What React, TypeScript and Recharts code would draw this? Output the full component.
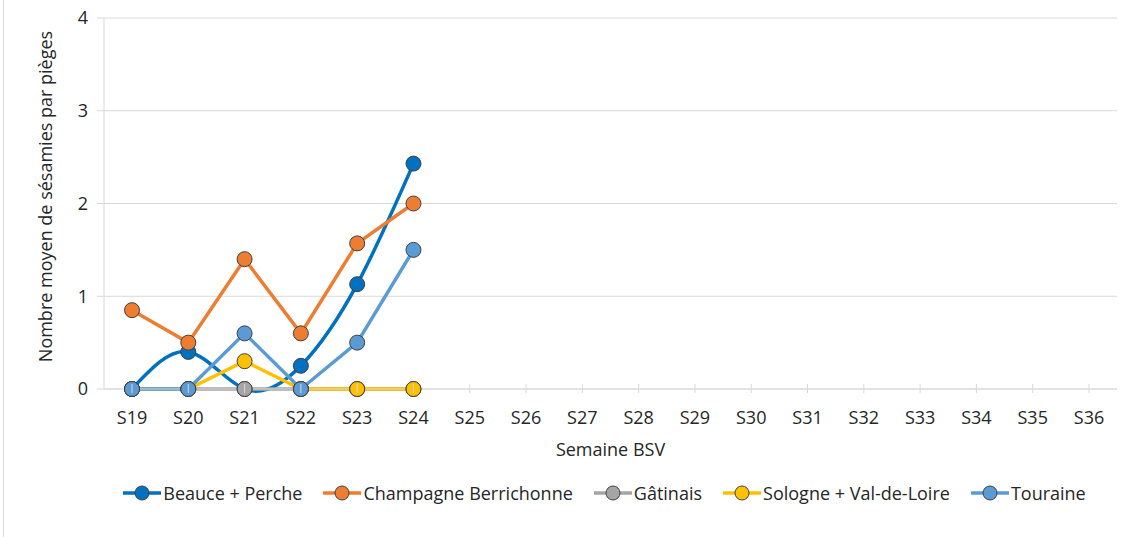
import React from "react";
import { LineChart, Line, XAxis, YAxis, CartesianGrid, Legend } from "recharts";

// ── Data ───────────────────────────────────────────────────────────────────

const weeks = [
  "S19", "S20", "S21", "S22", "S23", "S24", "S25", "S26", "S27",
  "S28", "S29", "S30", "S31", "S32", "S33", "S34", "S35", "S36",
];

const beauce = [0, 0.4, 0, 0.25, 1.13, 2.43];
const champagne = [0.85, 0.5, 1.4, 0.6, 1.57, 2.0];
const gatinais = [0, 0, 0, 0, 0, 0];
const sologne = [0, 0, 0.3, 0, 0, 0];
const touraine = [0, 0, 0.6, 0, 0.5, 1.5];

const yTicks = [0, 1, 2, 3, 4];

const SERIES = [
  { key: "beauce", name: "Beauce + Perche", color: "#0070C0", values: beauce, curve: "natural" },
  { key: "champagne", name: "Champagne Berrichonne", color: "#ED7D31", values: champagne, curve: "linear" },
  { key: "gatinais", name: "Gâtinais", color: "#A5A5A5", values: gatinais, curve: "linear" },
  { key: "sologne", name: "Sologne + Val-de-Loire", color: "#FFC000", values: sologne, curve: "linear" },
  { key: "touraine", name: "Touraine", color: "#5B9BD5", values: touraine, curve: "linear" },
] as const;

const data = weeks.map((w, i) => {
  const row: Record<string, string | number | null> = { week: w };
  SERIES.forEach((s) => {
    row[s.key] = i < s.values.length ? s.values[i] : null;
  });
  return row;
});

// ── Styles ─────────────────────────────────────────────────────────────────

const FONT = '"Open Sans", sans-serif';
const TEXT = "#262626";
const GRID = "#d9d9d9";

function XTick({ x, y, payload }: any) {
  return (
    <g>
      <line x1={x} x2={x} y1={y - 5} y2={y + 4} stroke={GRID} />
      <text
        x={x}
        y={y + 28}
        textAnchor="middle"
        dominantBaseline="central"
        fontSize={18}
        fill={TEXT}
        fontFamily={FONT}
      >
        {payload.value}
      </text>
    </g>
  );
}

function LegendContent() {
  return (
    <div
      style={{
        display: "flex",
        justifyContent: "center",
        gap: 21,
        height: 60,
        paddingTop: 4,
        paddingLeft: 92,
        boxSizing: "border-box",
        fontFamily: FONT,
        fontSize: 18,
        color: TEXT,
      }}
    >
      {SERIES.map((s) => (
        <div key={s.key} style={{ display: "flex", alignItems: "center", height: 24 }}>
          <svg width={38} height={20}>
            <line x1={0} x2={38} y1={10} y2={10} stroke={s.color} strokeWidth={3.5} />
            <circle cx={19} cy={10} r={7} fill={s.color} stroke="#404040" strokeWidth={1} />
          </svg>
          <span style={{ marginLeft: 2, whiteSpace: "nowrap" }}>{s.name}</span>
        </div>
      ))}
    </div>
  );
}

export default function App() {
  return (
    <div
      style={{
        position: "absolute",
        left: 0,
        top: 0,
        width: 1132,
        height: 537,
        background: "#fff",
        fontFamily: FONT,
      }}
    >
      <div style={{ position: "absolute", left: 3, top: 0, width: 1, height: 537, background: GRID }} />
      <LineChart width={1132} height={537} data={data} margin={{ top: 18, right: 15, left: 0, bottom: 0 }}>
        <CartesianGrid stroke={GRID} vertical={false} yAxisId="l" />
        <XAxis
          dataKey="week"
          height={88}
          stroke={GRID}
          padding={{ left: 28, right: 28 }}
          tickLine={false}
          tickSize={0}
          tickMargin={0}
          interval={0}
          tick={<XTick />}
          label={({ viewBox }: any) => (
            <text
              x={viewBox.x + viewBox.width / 2}
              y={viewBox.y + 60}
              textAnchor="middle"
              dominantBaseline="central"
              fontSize={18}
              fill={TEXT}
              fontFamily={FONT}
            >
              Semaine BSV
            </text>
          )}
        />
        <YAxis
          yAxisId="l"
          width={104}
          domain={[0, 4]}
          ticks={yTicks}
          stroke={GRID}
          tickSize={7}
          tickMargin={9}
          tick={{ fontSize: 18, fill: TEXT, fontFamily: FONT }}
          label={({ viewBox }: any) => (
            <text
              x={viewBox.x + 45}
              y={viewBox.y + viewBox.height / 2 - 7}
              textAnchor="middle"
              dominantBaseline="central"
              transform={`rotate(-90 ${viewBox.x + 45} ${viewBox.y + viewBox.height / 2 - 7})`}
              fontSize={18}
              fill={TEXT}
              fontFamily={FONT}
            >
              Nombre moyen de sésamies par pièges
            </text>
          )}
        />
        <YAxis yAxisId="r" orientation="right" width={0} domain={[0, 4]} tick={false} tickLine={false} stroke={GRID} />
        <Legend verticalAlign="bottom" content={<LegendContent />} wrapperStyle={{ height: 60 }} />
        {SERIES.map((s) => (
          <Line
            key={s.key}
            yAxisId="l"
            type={s.curve}
            dataKey={s.key}
            name={s.name}
            stroke={s.color}
            strokeWidth={3.5}
            dot={{ r: 7.5, fill: s.color, stroke: "#404040", strokeWidth: 1 }}
            activeDot={false}
            connectNulls={false}
            isAnimationActive={false}
          />
        ))}
      </LineChart>
    </div>
  );
}
